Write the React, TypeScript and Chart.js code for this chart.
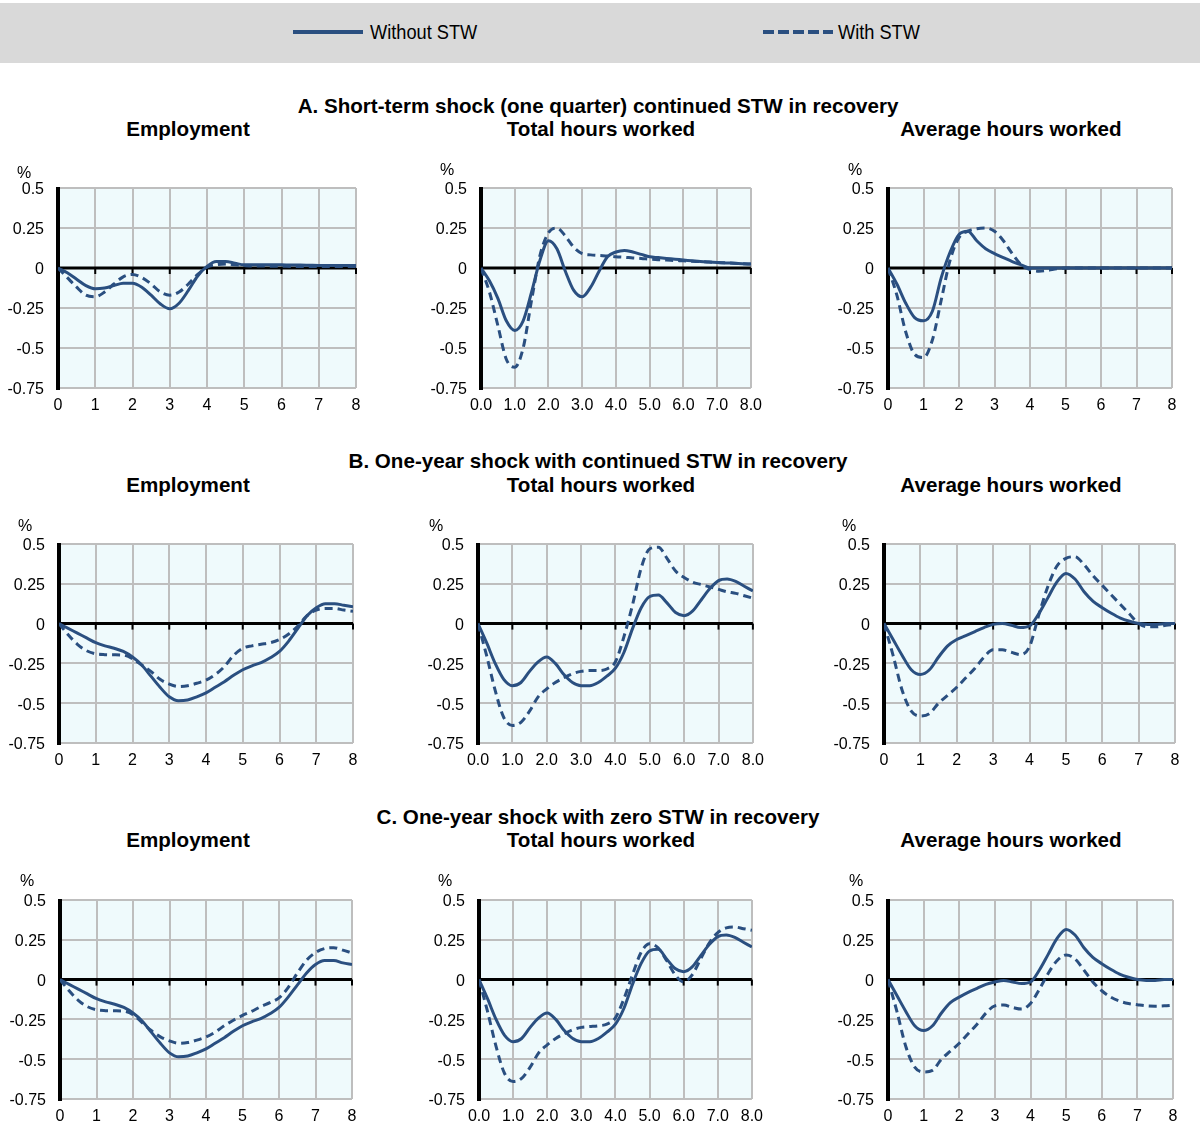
import React, { useEffect, useRef } from 'react';
import { Chart, registerables } from 'chart.js';
Chart.register(...registerables);

// ---- Data (x in years, quarterly steps) ----
const QUARTERS = [0, 0.25, 0.5, 0.75, 1, 1.25, 1.5, 1.75, 2, 2.25, 2.5, 2.75, 3, 3.25, 3.5, 3.75, 4, 4.25, 4.5, 4.75, 5, 5.25, 5.5, 5.75, 6, 6.25, 6.5, 6.75, 7, 7.25, 7.5, 7.75, 8];

const SERIES_LABELS = ['Without STW', 'With STW'];
const ROW_TITLES = [
  'A. Short-term shock (one quarter) continued STW in recovery',
  'B. One-year shock with continued STW in recovery',
  'C. One-year shock with zero STW in recovery',
];
const COL_TITLES = ['Employment', 'Total hours worked', 'Average hours worked'];
const Y_TICKS = [-0.75, -0.5, -0.25, 0, 0.25, 0.5];
const UNIT = '%';

// A: short-term shock
const A_EMP_WITHOUT = [0, -0.03, -0.07, -0.11, -0.13, -0.125, -0.11, -0.095, -0.095, -0.12, -0.17, -0.225, -0.255, -0.22, -0.14, -0.05, 0.01, 0.04, 0.04, 0.03, 0.02, 0.02, 0.02, 0.02, 0.02, 0.018, 0.018, 0.017, 0.016, 0.016, 0.015, 0.015, 0.015];
const A_EMP_WITH = [0, -0.06, -0.12, -0.17, -0.18, -0.15, -0.1, -0.055, -0.04, -0.06, -0.1, -0.15, -0.17, -0.15, -0.1, -0.04, 0.005, 0.02, 0.025, 0.02, 0.015, 0.012, 0.012, 0.011, 0.011, 0.01, 0.01, 0.01, 0.01, 0.01, 0.01, 0.01, 0.01];
const A_TOT_WITHOUT = [0, -0.08, -0.19, -0.33, -0.39, -0.33, -0.15, 0.05, 0.17, 0.12, -0.02, -0.14, -0.18, -0.12, -0.02, 0.07, 0.1, 0.11, 0.1, 0.085, 0.07, 0.065, 0.06, 0.055, 0.05, 0.045, 0.04, 0.037, 0.035, 0.032, 0.03, 0.027, 0.025];
const A_TOT_WITH = [0, -0.15, -0.36, -0.57, -0.62, -0.5, -0.2, 0.08, 0.22, 0.25, 0.2, 0.13, 0.09, 0.082, 0.078, 0.075, 0.07, 0.067, 0.063, 0.06, 0.055, 0.052, 0.05, 0.047, 0.045, 0.042, 0.04, 0.037, 0.035, 0.032, 0.03, 0.027, 0.025];
const A_AVG_WITHOUT = [0, -0.1, -0.22, -0.31, -0.33, -0.27, -0.06, 0.1, 0.21, 0.23, 0.17, 0.12, 0.09, 0.065, 0.04, 0.02, 0, 0, 0, 0, 0, 0, 0, 0, 0, 0, 0, 0, 0, 0, 0, 0, 0];
const A_AVG_WITH = [0, -0.17, -0.4, -0.54, -0.56, -0.45, -0.2, 0.05, 0.19, 0.23, 0.245, 0.25, 0.23, 0.17, 0.09, 0.02, -0.01, -0.02, -0.015, -0.005, 0, 0, 0, 0, 0, 0, 0, 0, 0, 0, 0, 0, 0];

// B: one-year shock, continued STW
const B_EMP_WITHOUT = [0, -0.03, -0.06, -0.09, -0.12, -0.14, -0.155, -0.175, -0.21, -0.26, -0.33, -0.4, -0.46, -0.485, -0.48, -0.46, -0.435, -0.4, -0.365, -0.325, -0.29, -0.265, -0.245, -0.215, -0.175, -0.11, -0.03, 0.05, 0.1, 0.125, 0.125, 0.115, 0.105];
const B_EMP_WITH = [0, -0.07, -0.13, -0.17, -0.19, -0.195, -0.196, -0.198, -0.22, -0.26, -0.3, -0.35, -0.38, -0.395, -0.39, -0.375, -0.355, -0.32, -0.27, -0.2, -0.155, -0.14, -0.13, -0.12, -0.1, -0.065, -0.015, 0.05, 0.085, 0.095, 0.095, 0.085, 0.078];
const B_TOT_WITHOUT = [0, -0.12, -0.25, -0.35, -0.39, -0.37, -0.3, -0.24, -0.21, -0.25, -0.32, -0.37, -0.39, -0.39, -0.37, -0.33, -0.28, -0.18, -0.03, 0.1, 0.17, 0.18, 0.13, 0.07, 0.05, 0.08, 0.15, 0.22, 0.27, 0.28, 0.265, 0.235, 0.205];
const B_TOT_WITH = [0, -0.2, -0.42, -0.59, -0.64, -0.62, -0.55, -0.46, -0.41, -0.37, -0.34, -0.315, -0.3, -0.295, -0.295, -0.285, -0.24, -0.08, 0.12, 0.35, 0.47, 0.48, 0.41, 0.33, 0.29, 0.26, 0.245, 0.23, 0.215, 0.2, 0.19, 0.175, 0.16];
const B_AVG_WITHOUT = [0, -0.1, -0.2, -0.29, -0.32, -0.29, -0.21, -0.14, -0.1, -0.075, -0.05, -0.025, -0.005, 0, -0.01, -0.025, -0.015, 0.06, 0.16, 0.26, 0.315, 0.28, 0.2, 0.14, 0.1, 0.065, 0.035, 0.015, 0, -0.005, -0.005, 0, 0];
const B_AVG_WITH = [0, -0.2, -0.42, -0.55, -0.58, -0.565, -0.5, -0.45, -0.4, -0.34, -0.28, -0.21, -0.165, -0.165, -0.18, -0.195, -0.145, 0.05, 0.23, 0.36, 0.41, 0.42, 0.37, 0.3, 0.24, 0.18, 0.12, 0.06, 0, -0.02, -0.02, -0.01, -0.005];

// C: one-year shock, zero STW in recovery
const C_EMP_WITHOUT = [0, -0.03, -0.06, -0.09, -0.12, -0.14, -0.155, -0.175, -0.21, -0.26, -0.33, -0.4, -0.46, -0.485, -0.48, -0.46, -0.435, -0.4, -0.365, -0.325, -0.29, -0.265, -0.245, -0.215, -0.175, -0.11, -0.035, 0.04, 0.095, 0.12, 0.12, 0.105, 0.095];
const C_EMP_WITH = [0, -0.07, -0.13, -0.17, -0.19, -0.195, -0.196, -0.198, -0.22, -0.27, -0.32, -0.36, -0.385, -0.4, -0.395, -0.38, -0.36, -0.33, -0.29, -0.255, -0.225, -0.2, -0.17, -0.145, -0.115, -0.05, 0.04, 0.12, 0.17, 0.195, 0.2, 0.185, 0.168];
const C_TOT_WITHOUT = [0, -0.12, -0.25, -0.35, -0.39, -0.37, -0.3, -0.24, -0.21, -0.25, -0.32, -0.37, -0.39, -0.39, -0.37, -0.33, -0.28, -0.18, -0.03, 0.1, 0.18, 0.19, 0.13, 0.07, 0.05, 0.08, 0.15, 0.22, 0.27, 0.28, 0.265, 0.235, 0.205];
const C_TOT_WITH = [0, -0.2, -0.42, -0.59, -0.64, -0.62, -0.55, -0.46, -0.41, -0.37, -0.34, -0.315, -0.3, -0.295, -0.29, -0.28, -0.24, -0.12, 0.03, 0.17, 0.225, 0.2, 0.12, 0.03, -0.015, 0.03, 0.13, 0.23, 0.295, 0.325, 0.33, 0.32, 0.31];
const C_AVG_WITHOUT = [0, -0.1, -0.2, -0.29, -0.32, -0.29, -0.21, -0.145, -0.11, -0.08, -0.055, -0.03, -0.015, -0.005, -0.015, -0.025, -0.015, 0.06, 0.16, 0.26, 0.315, 0.28, 0.2, 0.14, 0.1, 0.065, 0.035, 0.015, 0, -0.005, -0.005, 0, 0];
const C_AVG_WITH = [0, -0.2, -0.42, -0.55, -0.58, -0.57, -0.5, -0.45, -0.4, -0.34, -0.28, -0.21, -0.165, -0.16, -0.175, -0.185, -0.15, -0.06, 0.04, 0.12, 0.155, 0.13, 0.06, -0.015, -0.07, -0.11, -0.135, -0.15, -0.158, -0.165, -0.167, -0.165, -0.16];

// ---- Styling ----
const LINE_COLOR = '#2A4F80';
const PLOT_BG = '#EFFAFC';
const GRID_COLOR = '#BEBEBE';
const FONT = "'Liberation Sans', Arial, sans-serif";
const DASH = [8, 5];

type PanelDef = {
  l: number; r: number; t: number; b: number;
  without: number[]; withS: number[]; decimals: boolean;
  pctX: number; pctY: number;
};

const PANELS: PanelDef[] = [
  { l: 58, r: 356, t: 188, b: 388, without: A_EMP_WITHOUT, withS: A_EMP_WITH, decimals: false, pctX: 24, pctY: 173 },
  { l: 481, r: 752, t: 188, b: 388, without: A_TOT_WITHOUT, withS: A_TOT_WITH, decimals: true, pctX: 447, pctY: 170 },
  { l: 888, r: 1172, t: 188, b: 388, without: A_AVG_WITHOUT, withS: A_AVG_WITH, decimals: false, pctX: 855, pctY: 170 },
  { l: 59, r: 353, t: 544, b: 743, without: B_EMP_WITHOUT, withS: B_EMP_WITH, decimals: false, pctX: 25, pctY: 526 },
  { l: 478, r: 754, t: 544, b: 743, without: B_TOT_WITHOUT, withS: B_TOT_WITH, decimals: true, pctX: 436, pctY: 526 },
  { l: 884, r: 1175, t: 544, b: 743, without: B_AVG_WITHOUT, withS: B_AVG_WITH, decimals: false, pctX: 849, pctY: 526 },
  { l: 60, r: 352, t: 900, b: 1099, without: C_EMP_WITHOUT, withS: C_EMP_WITH, decimals: false, pctX: 27, pctY: 881 },
  { l: 479, r: 753, t: 900, b: 1099, without: C_TOT_WITHOUT, withS: C_TOT_WITH, decimals: true, pctX: 445, pctY: 881 },
  { l: 888, r: 1173, t: 900, b: 1099, without: C_AVG_WITHOUT, withS: C_AVG_WITH, decimals: false, pctX: 856, pctY: 881 },
];

const ROW_TITLE_Y = [106, 461, 817];
const COL_TITLE_Y = [129, 485, 840];
const COL_CENTERS = [188, 601, 1011];

const Y_AXIS_W = 56;
const PAD_TOP = 28;
const PAD_RIGHT = 18;
const X_AXIS_H = 32;

const framePlugin = {
  id: 'frame',
  beforeDraw(chart: any) {
    const { ctx, chartArea: a } = chart;
    ctx.save();
    ctx.fillStyle = PLOT_BG;
    ctx.fillRect(a.left, a.top, a.right - a.left, a.bottom - a.top);
    ctx.restore();
  },
  beforeDatasetsDraw(chart: any) {
    const { ctx, chartArea: a, scales } = chart;
    const y0 = scales.y.getPixelForValue(0);
    ctx.save();
    ctx.strokeStyle = '#000';
    ctx.lineWidth = 3;
    ctx.beginPath();
    ctx.moveTo(a.left, y0);
    ctx.lineTo(a.right, y0);
    ctx.stroke();
    ctx.lineWidth = 2;
    for (const t of scales.x.ticks) {
      const px = scales.x.getPixelForValue(t.value);
      ctx.beginPath();
      ctx.moveTo(px, y0);
      ctx.lineTo(px, y0 + 6);
      ctx.stroke();
    }
    ctx.lineWidth = 4;
    ctx.beginPath();
    ctx.moveTo(a.left, a.top - 1);
    ctx.lineTo(a.left, a.bottom + 2);
    ctx.stroke();
    ctx.restore();
  },
};

function Panel({ p }: { p: PanelDef }) {
  const ref = useRef<HTMLCanvasElement>(null);
  const w = p.r - p.l + Y_AXIS_W + PAD_RIGHT;
  const h = p.b - p.t + PAD_TOP + X_AXIS_H;
  useEffect(() => {
    if (!ref.current) return;
    const mk = (vals: number[]) => QUARTERS.map((x, i) => ({ x, y: vals[i] }));
    const chart = new Chart(ref.current, {
      type: 'line',
      data: {
        datasets: [
          {
            label: SERIES_LABELS[0],
            data: mk(p.without),
            borderColor: LINE_COLOR,
            borderWidth: 3,
            pointRadius: 0,
            cubicInterpolationMode: 'monotone',
            fill: false,
          },
          {
            label: SERIES_LABELS[1],
            data: mk(p.withS),
            borderColor: LINE_COLOR,
            borderWidth: 3,
            borderDash: DASH,
            pointRadius: 0,
            cubicInterpolationMode: 'monotone',
            fill: false,
          },
        ],
      },
      options: {
        responsive: false,
        animation: false,
        devicePixelRatio: 1,
        layout: { autoPadding: false, padding: { top: PAD_TOP, right: PAD_RIGHT, left: 0, bottom: 0 } },
        plugins: { legend: { display: false }, tooltip: { enabled: false }, title: { display: false } },
        scales: {
          x: {
            type: 'linear',
            min: 0,
            max: 8,
            afterFit: (s: any) => { s.height = X_AXIS_H; },
            ticks: {
              stepSize: 1,
              padding: 8,
              color: '#000',
              font: { family: FONT, size: 16 },
              maxRotation: 0,
              callback: (v: any) => (p.decimals ? Number(v).toFixed(1) : String(v)),
            },
            grid: { color: GRID_COLOR, lineWidth: 2, drawTicks: false },
            border: { display: false },
          },
          y: {
            min: -0.75,
            max: 0.5,
            afterFit: (s: any) => { s.width = Y_AXIS_W; },
            afterBuildTicks: (s: any) => { s.ticks = Y_TICKS.map((v) => ({ value: v })); },
            ticks: {
              padding: 14,
              labelOffset: 2,
              color: '#000',
              font: { family: FONT, size: 16 },
              callback: (v: any) => String(v),
            },
            grid: { color: GRID_COLOR, lineWidth: 2, drawTicks: false },
            border: { display: false },
          },
        },
      },
      plugins: [framePlugin],
    } as any);
    return () => chart.destroy();
  }, []);
  return (
    <>
      <canvas
        ref={ref}
        width={w}
        height={h}
        style={{ position: 'absolute', left: p.l - Y_AXIS_W, top: p.t - PAD_TOP, width: w, height: h }}
      />
      <div style={{ position: 'absolute', left: p.pctX, top: p.pctY, transform: 'translate(-50%,-50%)', font: `16px ${FONT}`, color: '#000' }}>{UNIT}</div>
    </>
  );
}

const centered = (x: number, y: number, style: any = {}) => ({
  position: 'absolute' as const,
  left: x,
  top: y,
  transform: 'translate(-50%,-50%)',
  whiteSpace: 'nowrap' as const,
  color: '#000',
  ...style,
});

const legendText = (x: number) => ({
  position: 'absolute' as const,
  left: x,
  top: 32,
  transform: 'translateY(-50%) scaleX(0.91)',
  transformOrigin: 'left center',
  font: `20px ${FONT}`,
  color: '#000',
  whiteSpace: 'nowrap' as const,
});

export default function App() {
  return (
    <div style={{ position: 'absolute', left: 0, top: 0, width: 1200, height: 1127, background: '#fff', overflow: 'hidden', fontFamily: FONT }}>
      <div style={{ position: 'absolute', left: 0, top: 3, width: 1200, height: 60, background: '#D9D9D9' }} />
      <svg style={{ position: 'absolute', left: 293, top: 29 }} width={72} height={6}>
        <line x1={0} y1={3} x2={70} y2={3} stroke={LINE_COLOR} strokeWidth={4} />
      </svg>
      <div style={legendText(370)}>{SERIES_LABELS[0]}</div>
      <svg style={{ position: 'absolute', left: 763, top: 29 }} width={72} height={6}>
        <line x1={0} y1={3} x2={70} y2={3} stroke={LINE_COLOR} strokeWidth={4} strokeDasharray="11 4" />
      </svg>
      <div style={legendText(838)}>{SERIES_LABELS[1]}</div>

      {ROW_TITLES.map((t, i) => (
        <div key={'rt' + i} style={centered(598, ROW_TITLE_Y[i], { font: `bold 20.6px ${FONT}` })}>{t}</div>
      ))}
      {ROW_TITLES.map((_, i) =>
        COL_TITLES.map((c, j) => (
          <div key={'ct' + i + j} style={centered(COL_CENTERS[j], COL_TITLE_Y[i], { font: `bold 20.6px ${FONT}` })}>{c}</div>
        ))
      )}
      {PANELS.map((p, i) => (
        <Panel key={i} p={p} />
      ))}
    </div>
  );
}
